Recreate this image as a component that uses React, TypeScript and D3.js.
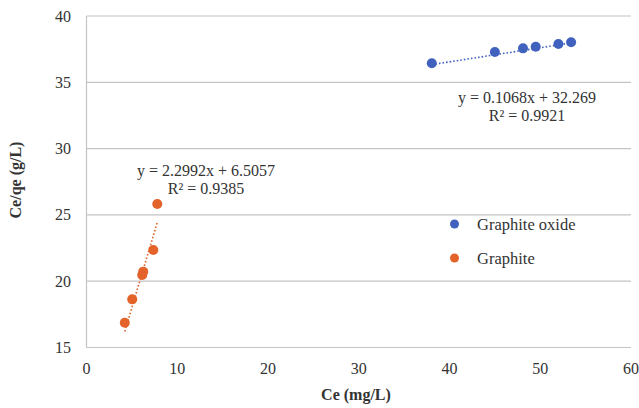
import React from "react";
import * as d3 from "d3";

const xTicks = [0, 10, 20, 30, 40, 50, 60];
const yTicks = [15, 20, 25, 30, 35, 40];

const oxideCe = [38.05, 45.0, 48.1, 49.5, 52.0, 53.4];
const oxideRatio = [36.43, 37.29, 37.56, 37.68, 37.89, 38.02];

const graphiteCe = [4.22, 5.04, 6.14, 6.25, 7.36, 7.8];
const graphiteRatio = [16.87, 18.63, 20.47, 20.72, 22.35, 25.82];

const oxideFit = { slope: 0.1068, intercept: 32.269, eq: "y = 0.1068x + 32.269", r2: "R² = 0.9921" };
const graphiteFit = { slope: 2.2992, intercept: 6.5057, eq: "y = 2.2992x + 6.5057", r2: "R² = 0.9385" };

const seriesNames = ["Graphite oxide", "Graphite"];
const colors = ["#4062BE", "#E3632B"];

export default function App() {
  const W = 639, H = 408;
  const x = d3.scaleLinear().domain([0, 60]).range([86.5, 631]);
  const y = d3.scaleLinear().domain([15, 40]).range([347.5, 16]);
  const font = "Liberation Serif";
  const textColor = "#333";
  const ts = { fontFamily: font };

  const fitLine = (xs: number[], fit: { slope: number; intercept: number }) => {
    const x0 = d3.min(xs)!, x1 = d3.max(xs)!;
    return d3.line<number>().x((d) => x(d)).y((d) => y(fit.slope * d + fit.intercept))([x0, x1])!;
  };

  const series = [
    { xs: oxideCe, ys: oxideRatio, fit: oxideFit, color: colors[0] },
    { xs: graphiteCe, ys: graphiteRatio, fit: graphiteFit, color: colors[1] },
  ];

  return (
    <svg width={W} height={H} style={{ position: "absolute", left: 0, top: 0, background: "#fff", fontFamily: font }}>
      {yTicks.map((t) => (
        <g key={t}>
          <line x1={x(0)} x2={x(60)} y1={y(t)} y2={y(t)} stroke="#c4c4c4" strokeWidth={1.2} />
          <text x={71} y={y(t) + 5.5} textAnchor="end" fontSize={16} fill={textColor} style={ts}>{t}</text>
        </g>
      ))}
      <line x1={x(0)} x2={x(0)} y1={y(40)} y2={y(15)} stroke="#c4c4c4" strokeWidth={1.2} />
      {xTicks.map((t) => (
        <text key={t} x={x(t)} y={374} textAnchor="middle" fontSize={16} fill={textColor} style={ts}>{t}</text>
      ))}
      <text x={356} y={400} textAnchor="middle" fontSize={16} fontWeight="bold" fill={textColor} style={ts}>Ce (mg/L)</text>
      <text transform="translate(21,180) rotate(-90)" textAnchor="middle" fontSize={16} fontWeight="bold" fill={textColor} style={ts}>Ce/qe (g/L)</text>

      {series.map((s, i) => (
        <g key={i}>
          <path d={fitLine(s.xs, s.fit)} stroke={s.color} strokeWidth={1.6} strokeDasharray="1.6 2" fill="none" />
          {s.xs.map((v, j) => (
            <circle key={j} cx={x(v)} cy={y(s.ys[j])} r={5} fill={s.color} />
          ))}
        </g>
      ))}

      <text x={527} y={103} textAnchor="middle" fontSize={16} fill={textColor} style={ts}>{oxideFit.eq}</text>
      <text x={527} y={121} textAnchor="middle" fontSize={16} fill={textColor} style={ts}>{oxideFit.r2}</text>
      <text x={206} y={176} textAnchor="middle" fontSize={16} fill={textColor} style={ts}>{graphiteFit.eq}</text>
      <text x={206} y={194} textAnchor="middle" fontSize={16} fill={textColor} style={ts}>{graphiteFit.r2}</text>

      {seriesNames.map((n, i) => (
        <g key={n}>
          <circle cx={454.5} cy={224 + i * 34} r={4.5} fill={colors[i]} />
          <text x={477} y={229.5 + i * 34} fontSize={16.5} fill={textColor} style={ts}>{n}</text>
        </g>
      ))}
    </svg>
  );
}
